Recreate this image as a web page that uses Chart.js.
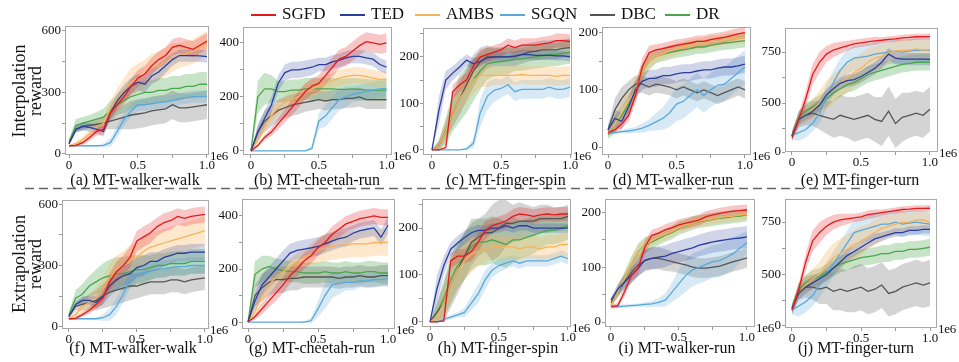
<!DOCTYPE html>
<html>
<head>
<meta charset="utf-8">
<script src="https://cdn.jsdelivr.net/npm/chart.js@4.4.0/dist/chart.umd.min.js"></script>
<style>
body{margin:0;background:#fff;width:959px;height:362px;position:relative;overflow:hidden;font-family:"Liberation Serif",serif;color:#111}
canvas{position:absolute}
.t{position:absolute;white-space:nowrap;transform:translateX(-50%);font-size:16px;line-height:20px}
.e6{position:absolute;font-size:13px;line-height:14px;letter-spacing:-0.2px}
.yt{position:absolute;width:140px;text-align:center;font-size:18px;line-height:16px;transform:translate(-50%,-50%) rotate(-90deg)}
.lg{position:absolute;top:4px;font-size:17px;line-height:20px}
.lg i{position:absolute;top:10px;height:1.5px;width:25px}
</style>
</head>
<body>
<svg style="position:absolute;left:0;top:0" width="959" height="362"><line x1="25" y1="188.5" x2="862" y2="188.5" stroke="#666" stroke-width="1.3" stroke-dasharray="9 5"/></svg>
<script>
// x grid (1e6 steps)
const X = [0,0.05,0.1,0.15,0.2,0.25,0.3,0.35,0.4,0.45,0.5,0.55,0.6,0.65,0.7,0.75,0.8,0.85,0.9,0.95,1.0];
const methods = ['SGFD','TED','AMBS','SGQN','DBC','DR'];
const colors = ['#e31a1c','#2a3f9d','#f7b35a','#5aa9d9','#555555','#4aa64a'];
const bands = ['rgba(227,26,28,0.25)','rgba(42,63,157,0.22)','rgba(247,179,90,0.3)','rgba(90,169,217,0.25)','rgba(85,85,85,0.25)','rgba(74,166,74,0.3)'];

// (a) interpolation walker-walk
const a_sgfd = [40,42,55,80,110,120,200,240,280,330,370,390,430,460,480,520,530,520,510,530,550];
const a_ted  = [50,120,135,130,120,110,200,260,300,330,350,340,380,400,430,460,480,480,480,478,475];
const a_ambs = [40,50,70,100,130,150,220,270,310,350,370,390,420,430,450,470,480,490,500,520,540];
const a_sgqn = [40,40,40,40,40,42,55,110,170,210,240,240,245,250,255,260,270,275,280,280,280];
const a_dbc  = [50,120,135,140,145,150,160,170,180,190,195,200,210,215,220,240,225,225,230,235,240];
const a_dr   = [60,140,150,160,170,180,210,240,260,280,290,300,300,310,310,320,320,330,330,340,340];
const a_sgfd_sd = [5,8,10,15,20,25,30,30,35,35,40,40,40,40,40,40,40,40,40,40,40];
const a_ted_sd  = [5,15,20,20,20,25,30,35,40,40,40,40,40,40,35,30,30,30,30,30,30];
const a_ambs_sd = [5,10,15,20,25,30,40,50,60,70,70,70,70,70,70,70,60,60,60,60,60];
const a_sgqn_sd = [3,3,3,3,3,10,20,30,30,30,30,30,30,30,30,30,30,30,30,30,30];
const a_dbc_sd  = [5,15,20,20,25,30,40,50,60,70,70,70,70,70,70,70,70,70,70,70,70];
const a_dr_sd   = [10,30,30,30,35,40,50,50,60,60,60,60,60,60,60,60,60,60,60,60,60];

// (b) interpolation cheetah-run
const b_sgfd = [0,20,50,70,100,130,160,190,220,240,250,280,310,340,350,370,390,405,400,395,400];
const b_ted  = [0,70,120,170,250,290,300,300,305,310,320,320,330,335,345,350,350,345,340,320,310];
const b_ambs = [0,40,90,130,160,180,190,200,220,230,240,250,260,270,275,280,280,275,270,265,265];
const b_sgqn = [0,0,0,0,0,0,0,0,0,10,110,130,160,190,200,210,215,220,225,230,232];
const b_dbc  = [0,70,110,130,150,160,170,175,180,185,190,185,190,190,195,195,200,190,190,190,190];
const b_dr   = [0,200,230,230,220,220,225,225,230,230,230,230,230,228,228,230,228,226,225,225,225];
const b_sgfd_sd = [2,5,10,15,20,25,30,30,30,30,30,35,35,35,35,35,35,35,35,35,35];
const b_ted_sd  = [2,20,30,30,30,30,30,30,30,30,25,25,25,25,25,25,25,25,25,25,25];
const b_ambs_sd = [2,15,20,25,25,25,30,30,30,30,30,30,30,30,30,30,30,30,30,30,30];
const b_sgqn_sd = [0,0,0,0,0,0,0,0,0,10,30,40,40,40,40,30,30,30,30,30,30];
const b_dbc_sd  = [2,30,40,40,40,40,40,40,35,35,35,35,35,35,35,35,35,35,35,35,35];
const b_dr_sd   = [2,60,60,50,40,40,40,40,40,40,40,40,40,40,40,40,40,40,40,40,40];

// (c) interpolation finger-spin
const c_sgfd = [0,0,5,125,140,150,180,200,205,210,215,225,220,225,225,225,228,230,235,235,233];
const c_ted  = [0,85,150,165,178,193,185,190,198,200,200,200,202,205,205,203,203,203,202,202,200];
const c_ambs = [0,10,40,80,110,130,150,160,160,160,160,160,160,162,160,160,160,160,158,160,160];
const c_sgqn = [0,0,0,0,0,2,14,80,115,128,132,140,125,130,130,130,130,135,130,130,135];
const c_dbc  = [0,10,40,80,110,140,170,190,200,200,200,200,200,205,210,212,215,215,215,218,220];
const c_dr   = [0,10,40,80,110,130,150,170,185,188,190,192,195,195,198,200,202,205,205,208,210];
const c_sgfd_sd = [0,0,2,15,15,15,15,15,15,15,15,15,15,15,15,15,15,15,15,15,15];
const c_ted_sd  = [0,30,20,15,15,12,12,10,10,10,10,10,10,10,10,10,10,10,10,10,10];
const c_ambs_sd = [0,10,20,30,30,30,30,25,25,20,20,20,20,20,20,20,20,20,20,20,20];
const c_sgqn_sd = [0,0,0,0,0,3,10,30,30,25,20,20,20,20,20,20,20,20,20,20,20];
const c_dbc_sd  = [0,10,20,30,35,35,35,30,25,20,20,20,20,20,20,20,20,20,20,20,20];
const c_dr_sd   = [0,10,30,40,50,50,45,40,35,30,30,30,25,25,25,25,25,25,25,25,25];

// (d) interpolation walker-run
const d_sgfd = [25,30,40,55,90,140,165,170,172,175,178,180,182,185,185,188,190,192,195,198,200];
const d_ted  = [30,50,45,70,100,115,120,120,125,125,128,130,130,133,135,135,138,140,140,142,145];
const d_ambs = [25,40,60,80,100,130,150,158,163,168,172,175,178,180,182,185,185,188,190,190,192];
const d_sgqn = [25,25,27,28,30,33,38,44,50,60,75,80,90,100,90,100,108,110,120,130,140];
const d_dbc  = [30,65,85,100,110,110,105,110,108,105,100,105,100,95,100,95,90,95,100,105,100];
const d_dr   = [22,40,55,75,100,130,150,158,162,165,168,170,172,175,175,178,180,182,183,185,186];
const d_sgfd_sd = [5,5,8,10,15,15,12,10,10,10,10,10,10,10,10,10,10,10,10,10,10];
const d_ted_sd  = [8,15,15,15,15,15,15,15,15,15,15,15,15,15,15,15,15,15,15,15,15];
const d_ambs_sd = [5,15,20,20,20,15,12,10,10,10,10,10,10,10,10,10,10,10,10,10,10];
const d_sgqn_sd = [3,3,3,5,5,8,10,15,20,25,30,30,30,30,30,30,30,30,30,30,30];
const d_dbc_sd  = [8,20,20,15,15,15,15,15,15,15,15,15,15,15,15,15,15,15,15,15,15];
const d_dr_sd   = [8,15,15,15,15,15,15,12,12,12,12,12,12,12,12,12,12,12,12,12,12];

// (e) interpolation finger-turn
const e_sgfd = [330,420,520,640,700,740,760,770,780,790,795,800,805,808,812,815,820,822,825,825,826];
const e_ted  = [340,420,440,460,490,540,570,597,610,615,630,650,670,700,740,720,715,715,715,715,714];
const e_ambs = [340,420,440,470,500,540,570,600,620,650,670,700,720,730,745,755,760,760,765,760,762];
const e_sgqn = [340,355,370,400,450,530,600,660,700,720,725,730,740,745,750,755,750,755,760,758,760];
const e_dbc  = [340,420,440,450,440,430,420,440,430,420,430,440,420,410,460,400,430,440,450,440,470];
const e_dr   = [340,430,460,480,500,520,550,570,590,600,620,640,650,660,670,680,690,695,700,700,700];
const e_sgfd_sd = [20,30,40,50,50,40,35,30,25,20,20,20,20,15,15,15,15,15,15,15,15];
const e_ted_sd  = [20,30,30,30,30,30,30,30,30,30,30,30,30,30,30,30,30,30,30,30,30];
const e_ambs_sd = [20,30,40,50,60,70,70,70,70,70,70,70,60,60,50,50,50,50,50,50,50];
const e_sgqn_sd = [20,40,40,40,50,60,60,60,60,60,60,60,60,60,60,60,60,60,60,60,60];
const e_dbc_sd  = [20,40,50,60,70,80,90,100,100,110,110,110,110,120,120,120,120,110,110,110,110];
const e_dr_sd   = [20,30,40,40,40,40,40,40,40,40,40,40,40,40,40,40,40,40,40,40,40];

// (f) extrapolation walker-walk
const f_sgfd = [40,42,60,80,110,140,220,270,300,340,420,440,460,490,510,520,540,530,540,545,550];
const f_ted  = [50,110,130,130,120,150,200,230,250,260,290,300,320,320,340,350,360,360,365,365,365];
const f_ambs = [40,60,100,120,140,180,240,280,300,330,340,370,390,400,410,420,430,440,450,460,470];
const f_sgqn = [40,40,40,40,40,45,60,100,160,230,260,265,270,280,285,290,295,295,300,300,300];
const f_dbc  = [50,100,110,120,130,150,170,180,190,200,200,210,220,220,220,230,230,220,230,235,240];
const f_dr   = [60,140,160,200,220,240,250,260,260,270,280,280,290,300,300,310,310,310,320,320,320];
const f_sgfd_sd = [5,8,10,15,20,30,40,50,50,50,50,50,50,45,45,45,40,40,40,40,40];
const f_ted_sd  = [5,15,20,20,30,40,50,50,50,50,50,50,45,45,40,40,40,40,40,40,40];
const f_ambs_sd = [5,20,30,40,50,60,70,70,70,70,70,70,70,70,70,70,70,70,70,70,70];
const f_sgqn_sd = [3,3,3,3,5,15,30,40,40,40,40,40,40,40,40,40,40,40,40,40,40];
const f_dbc_sd  = [5,20,30,40,50,60,70,70,70,70,60,60,60,60,60,60,60,60,60,60,60];
const f_dr_sd   = [10,40,50,50,60,70,80,80,80,80,70,70,60,60,60,60,60,60,60,60,60];

// (g) extrapolation cheetah-run
const g_sgfd = [0,20,50,80,110,140,175,200,230,250,280,300,330,350,370,380,390,395,400,395,395];
const g_ted  = [0,80,140,170,200,230,260,270,275,280,285,295,305,315,320,335,345,350,355,320,365];
const g_ambs = [0,40,100,140,170,190,210,230,245,255,270,280,285,290,290,295,295,295,300,300,300];
const g_sgqn = [0,0,0,0,0,0,0,0,0,5,50,100,140,145,150,150,155,155,160,160,165];
const g_dbc  = [0,100,130,150,160,160,165,165,170,170,170,170,170,165,170,170,175,170,170,175,175];
const g_dr   = [0,180,200,210,200,195,190,190,185,185,185,190,185,185,190,185,185,190,190,185,185];
const g_sgfd_sd = [2,10,20,25,30,30,30,30,30,30,30,30,30,30,30,30,30,30,30,30,30];
const g_ted_sd  = [2,30,40,40,40,40,35,35,35,35,35,35,35,35,35,30,30,30,30,30,30];
const g_ambs_sd = [2,20,30,30,30,30,30,30,30,40,50,50,50,50,50,50,50,50,50,50,50];
const g_sgqn_sd = [0,0,0,0,0,0,0,0,3,10,30,50,50,40,30,30,25,25,25,25,25];
const g_dbc_sd  = [2,40,50,50,50,50,45,45,40,40,40,40,40,40,40,40,40,40,40,40,40];
const g_dr_sd   = [2,50,50,40,40,40,40,40,40,40,40,40,40,40,40,40,40,40,40,40,40];

// (h) extrapolation finger-spin
const h_sgfd = [0,0,2,130,140,140,150,170,195,205,210,215,225,230,228,225,228,230,228,230,230];
const h_ted  = [0,70,120,155,168,180,190,195,195,200,200,205,200,205,205,200,200,200,200,200,200];
const h_ambs = [0,10,40,80,110,130,145,150,155,160,160,160,160,155,160,160,155,160,160,165,165];
const h_sgqn = [0,0,5,10,15,20,40,60,90,110,120,125,130,125,130,130,130,130,135,140,135];
const h_dbc  = [0,20,40,80,110,140,170,180,190,190,200,210,210,215,215,215,220,220,220,220,225];
const h_dr   = [0,20,50,90,120,140,160,170,170,175,170,165,175,175,180,185,190,195,195,200,205];
const h_sgfd_sd = [0,0,2,15,15,15,20,20,20,15,15,15,15,15,15,15,15,15,15,15,15];
const h_ted_sd  = [0,30,20,15,15,15,12,12,10,10,10,10,10,10,10,10,10,10,10,10,10];
const h_ambs_sd = [0,10,30,40,40,40,40,30,30,25,25,25,25,25,25,25,25,25,25,25,25];
const h_sgqn_sd = [0,0,3,5,5,10,15,20,20,15,15,12,12,12,12,12,12,12,12,12,12];
const h_dbc_sd  = [0,20,40,50,50,50,50,40,40,60,60,50,40,40,35,30,30,30,25,25,25];
const h_dr_sd   = [0,20,40,50,50,50,50,50,50,50,50,50,50,40,40,40,35,30,30,30,30];

// (i) extrapolation walker-run
const i_sgfd = [28,30,55,85,98,137,158,162,168,172,177,180,183,186,192,195,198,200,202,203,204];
const i_ted  = [40,60,73,85,98,113,116,118,120,125,128,132,135,140,143,146,148,150,152,153,155];
const i_ambs = [30,55,80,105,128,140,148,155,160,165,172,176,180,184,186,188,190,192,193,195,196];
const i_sgqn = [28,28,29,30,31,32,33,36,40,55,70,85,95,100,105,110,112,118,125,135,145];
const i_dbc  = [35,55,73,90,104,112,116,116,113,110,107,104,100,98,98,100,102,106,110,113,117];
const i_dr   = [30,55,79,105,128,140,146,152,158,163,171,175,180,183,185,187,189,190,192,193,195];
const i_sgfd_sd = [3,5,8,10,12,12,10,10,10,10,10,10,10,10,10,10,10,10,10,10,10];
const i_ted_sd  = [5,10,12,15,15,18,20,20,20,20,20,20,20,20,20,20,20,20,20,20,20];
const i_ambs_sd = [3,8,10,12,12,12,10,10,10,10,10,10,10,10,10,10,10,10,10,10,10];
const i_sgqn_sd = [3,3,3,3,3,4,5,8,12,18,25,30,30,30,30,30,30,30,30,25,20];
const i_dbc_sd  = [5,10,15,18,20,20,20,20,20,18,18,18,18,18,18,18,18,18,18,18,18];
const i_dr_sd   = [5,10,12,15,15,15,12,12,12,12,12,12,12,12,12,12,12,12,12,12,12];

// (j) extrapolation finger-turn
const j_sgfd = [330,430,560,660,700,730,750,760,765,770,775,785,790,795,800,805,810,812,815,815,816];
const j_ted  = [340,410,440,460,480,500,530,560,590,610,630,650,670,680,690,700,700,710,710,715,715];
const j_ambs = [340,410,450,480,500,540,580,600,620,640,660,680,700,720,730,740,750,750,760,760,750];
const j_sgqn = [330,350,370,400,450,500,550,600,650,700,710,720,730,740,740,750,740,745,750,745,740];
const j_dbc  = [330,420,440,440,430,440,420,430,420,430,440,420,430,450,410,420,440,450,460,450,460];
const j_dr   = [340,430,460,480,490,510,530,550,560,570,580,585,590,600,600,610,610,620,620,625,630];
const j_sgfd_sd = [20,30,40,50,50,40,35,30,25,20,20,20,20,15,15,15,15,15,15,15,15];
const j_ted_sd  = [20,30,30,30,30,30,30,30,30,25,25,25,25,20,20,20,20,20,20,20,20];
const j_ambs_sd = [20,30,40,50,60,70,70,70,70,70,70,60,60,60,50,50,50,40,40,40,40];
const j_sgqn_sd = [20,50,50,50,60,60,60,60,60,60,60,60,60,60,60,60,60,60,60,60,60];
const j_dbc_sd  = [20,40,50,60,70,80,90,100,100,110,110,110,110,110,110,110,110,110,110,110,110];
const j_dr_sd   = [20,30,40,40,40,40,40,40,40,40,40,40,40,40,40,40,40,40,40,40,40];

// tick values / labels
const xTicks = [0,0.25,0.5,0.75,1];
const xTickLabels = ['0','','0.5','','1.0'];
const yTicks600 = [0,150,300,450,600];
const yLabels600 = ['0','','300','','600'];
const yTicks400 = [0,100,200,300,400];
const yLabels400 = ['0','','200','','400'];
const yTicks250 = [0,50,100,150,200,250];
const yLabels250 = ['0','','100','','200',''];
const yTicks200 = [0,50,100,150,200];
const yLabels200 = ['0','','100','','200'];
const yTicksTurnA = [260,375,500,625,750];
const yTicksTurnB = [255,375,500,625,750];
const yLabelsTurn = ['0','','500','','750'];

const panels = [
  {box:[65,26,209,155], xr:[-0.029,1.015], yr:[-5,624], yt:yTicks600, yl:yLabels600, title:'(a) MT-walker-walk', tx:135, ty:180,
   m:[a_sgfd,a_ted,a_ambs,a_sgqn,a_dbc,a_dr], s:[a_sgfd_sd,a_ted_sd,a_ambs_sd,a_sgqn_sd,a_dbc_sd,a_dr_sd]},
  {box:[243,27,392,155], xr:[-0.059,1.04], yr:[-15,459], yt:yTicks400, yl:yLabels400, title:'(b) MT-cheetah-run', tx:317, ty:180,
   m:[b_sgfd,b_ted,b_ambs,b_sgqn,b_dbc,b_dr], s:[b_sgfd_sd,b_ted_sd,b_ambs_sd,b_sgqn_sd,b_dbc_sd,b_dr_sd]},
  {box:[423,28,572,155], xr:[-0.065,1.014], yr:[-11,262], yt:yTicks250, yl:yLabels250, title:'(c) MT-finger-spin', tx:506, ty:180,
   m:[c_sgfd,c_ted,c_ambs,c_sgqn,c_dbc,c_dr], s:[c_sgfd_sd,c_ted_sd,c_ambs_sd,c_sgqn_sd,c_dbc_sd,c_dr_sd]},
  {box:[602,27,751,155], xr:[-0.044,1.044], yr:[-14,210], yt:yTicks200, yl:yLabels200, title:'(d) MT-walker-run', tx:673, ty:180,
   m:[d_sgfd,d_ted,d_ambs,d_sgqn,d_dbc,d_dr], s:[d_sgfd_sd,d_ted_sd,d_ambs_sd,d_sgqn_sd,d_dbc_sd,d_dr_sd]},
  {box:[785,28,938,152], xr:[-0.05,1.058], yr:[260,868], yt:yTicksTurnA, yl:yLabelsTurn, title:'(e) MT-finger-turn', tx:860, ty:180,
   m:[e_sgfd,e_ted,e_ambs,e_sgqn,e_dbc,e_dr], s:[e_sgfd_sd,e_ted_sd,e_ambs_sd,e_sgqn_sd,e_dbc_sd,e_dr_sd]},
  {box:[62,200,209,329], xr:[-0.05,1.03], yr:[-10,620], yt:yTicks600, yl:yLabels600, title:'(f) MT-walker-walk', tx:133, ty:348,
   m:[f_sgfd,f_ted,f_ambs,f_sgqn,f_dbc,f_dr], s:[f_sgfd_sd,f_ted_sd,f_ambs_sd,f_sgqn_sd,f_dbc_sd,f_dr_sd]},
  {box:[242,199,395,329], xr:[-0.043,1.05], yr:[-26,464], yt:yTicks400, yl:yLabels400, title:'(g) MT-cheetah-run', tx:312, ty:348,
   m:[g_sgfd,g_ted,g_ambs,g_sgqn,g_dbc,g_dr], s:[g_sgfd_sd,g_ted_sd,g_ambs_sd,g_sgqn_sd,g_dbc_sd,g_dr_sd]},
  {box:[422,199,571,327], xr:[-0.058,1.022], yr:[-11,262], yt:yTicks250, yl:yLabels250, title:'(h) MT-finger-spin', tx:498, ty:348,
   m:[h_sgfd,h_ted,h_ambs,h_sgqn,h_dbc,h_dr], s:[h_sgfd_sd,h_ted_sd,h_ambs_sd,h_sgqn_sd,h_dbc_sd,h_dr_sd]},
  {box:[605,199,755,327], xr:[-0.044,1.059], yr:[-9,224], yt:yTicks200, yl:yLabels200, title:'(i) MT-walker-run', tx:677, ty:348,
   m:[i_sgfd,i_ted,i_ambs,i_sgqn,i_dbc,i_dr], s:[i_sgfd_sd,i_ted_sd,i_ambs_sd,i_sgqn_sd,i_dbc_sd,i_dr_sd]},
  {box:[785,199,937,328], xr:[-0.05,1.05], yr:[245,860], yt:yTicksTurnB, yl:yLabelsTurn, title:'(j) MT-finger-turn', tx:856, ty:348,
   m:[j_sgfd,j_ted,j_ambs,j_sgqn,j_dbc,j_dr], s:[j_sgfd_sd,j_ted_sd,j_ambs_sd,j_sgqn_sd,j_dbc_sd,j_dr_sd]}
];

Chart.defaults.font.family = '"Liberation Serif", serif';
Chart.defaults.font.size = 13;
Chart.defaults.color = '#111';

const frame = {
  id: 'frame',
  beforeDatasetsDraw(c) {
    const a = c.chartArea, ctx = c.ctx;
    ctx.save();
    ctx.strokeStyle = '#a8a8a8';
    ctx.lineWidth = 1;
    ctx.strokeRect(a.left + 0.5, a.top + 0.5, a.width - 1, a.height - 1);
    ctx.restore();
  }
};

const PADL = 40, PADT = 10, PADR = 16, PADB = 22;

function pts(arr, off, sign) {
  return arr.map((v, k) => ({x: X[k], y: v + sign * (off ? off[k] : 0)}));
}

panels.forEach(p => {
  const [L, T, R, B] = p.box;
  const cv = document.createElement('canvas');
  cv.width = R - L + PADL + PADR;
  cv.height = B - T + PADT + PADB;
  cv.style.left = (L - PADL) + 'px';
  cv.style.top = (T - PADT) + 'px';
  document.body.appendChild(cv);

  const ds = [];
  methods.forEach((name, i) => {
    ds.push({label: name + ' lo', data: pts(p.m[i], p.s[i], -1), borderWidth: 0, pointRadius: 0, fill: false, order: 20 + i});
    ds.push({label: name + ' hi', data: pts(p.m[i], p.s[i], 1), borderWidth: 0, pointRadius: 0, fill: '-1', backgroundColor: bands[i], order: 20 + i});
  });
  methods.forEach((name, i) => {
    ds.push({label: name, data: pts(p.m[i], null, 0), borderColor: colors[i], borderWidth: 1.3, pointRadius: 0, fill: false, order: i});
  });

  new Chart(cv, {
    type: 'line',
    data: {datasets: ds},
    plugins: [frame],
    options: {
      responsive: false,
      animation: false,
      devicePixelRatio: 1,
      layout: {padding: {left: 0, top: PADT, right: PADR, bottom: 0}},
      plugins: {legend: {display: false}, tooltip: {enabled: false}},
      scales: {
        x: {
          type: 'linear', min: p.xr[0], max: p.xr[1],
          border: {display: false},
          grid: {drawOnChartArea: false, drawTicks: true, tickLength: 3, color: '#999'},
          afterBuildTicks: s => { s.ticks = xTicks.map(v => ({value: v})); },
          afterFit: s => { s.height = PADB; s.paddingLeft = 0; s.paddingRight = 0; },
          ticks: {autoSkip: false, maxRotation: 0, padding: 0, callback: (v, k) => xTickLabels[k]}
        },
        y: {
          type: 'linear', min: p.yr[0], max: p.yr[1],
          border: {display: false},
          grid: {drawOnChartArea: false, drawTicks: true, tickLength: 3, color: '#999'},
          afterBuildTicks: s => { s.ticks = p.yt.map(v => ({value: v})); },
          afterFit: s => { s.width = PADL; s.paddingTop = 0; s.paddingBottom = 0; },
          ticks: {autoSkip: false, padding: 1, callback: (v, k) => p.yl[k]}
        }
      }
    }
  });

  const t = document.createElement('div');
  t.className = 't';
  t.textContent = p.title;
  t.style.left = p.tx + 'px';
  t.style.top = (p.ty - 10) + 'px';
  document.body.appendChild(t);

  const e = document.createElement('div');
  e.className = 'e6';
  e.textContent = '1e6';
  e.style.left = (R + 1) + 'px';
  e.style.top = (B - 6) + 'px';
  document.body.appendChild(e);
});

// legend
const legendX = [251, 340, 415, 500, 590, 665];
methods.forEach((name, i) => {
  const d = document.createElement('div');
  d.className = 'lg';
  d.style.left = legendX[i] + 'px';
  d.innerHTML = '<i style="left:0;background:' + colors[i] + '"></i><span style="margin-left:31px">' + name + '</span>';
  document.body.appendChild(d);
});

// y titles
[['Interpolation', 91], ['Extrapolation', 264]].forEach(([w, cy]) => {
  const d = document.createElement('div');
  d.className = 'yt';
  d.innerHTML = w + '<br>reward';
  d.style.left = '27px';
  d.style.top = cy + 'px';
  document.body.appendChild(d);
});
</script>
</body>
</html>
